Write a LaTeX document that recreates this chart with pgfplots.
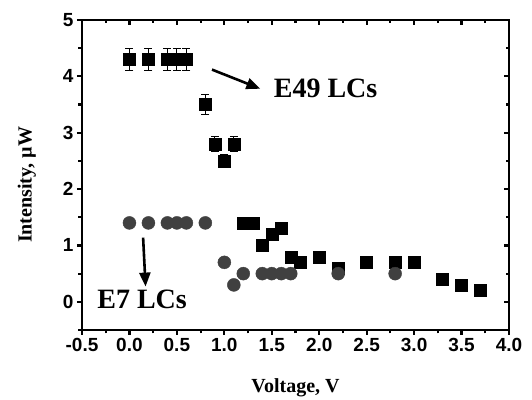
\documentclass[border=0pt]{standalone}
\usepackage{fontspec}
\setmainfont{Liberation Serif}
\setsansfont{Liberation Sans}
\usepackage{pgfplots}
\pgfplotsset{compat=1.18}
\usetikzlibrary{arrows.meta}
\definecolor{circgray}{HTML}{404040}
\newcommand{\tl}[1]{\textsf{\textbf{#1}}}
\begin{document}
\begin{tikzpicture}
\pgfplotsset{
  common/.style={
    scale only axis, width=427pt, height=310pt,
    xmin=-0.5, xmax=4.0, ymin=-0.5, ymax=5,
    xtick={-0.5,0,0.5,1,1.5,2,2.5,3,3.5,4},
    ytick={0,1,2,3,4,5},
    minor xtick={-0.25,0.25,0.75,1.25,1.75,2.25,2.75,3.25,3.75},
    minor ytick={-0.5,0.5,1.5,2.5,3.5,4.5},
    axis line style={line width=2.8pt},
    major tick style={line width=2.2pt, black},
    minor tick style={line width=2.2pt, black},
    major tick length=5pt, minor tick length=3.5pt,
  }
}
\begin{axis}[common, name=ax,
  tick align=outside, xtick pos=left, ytick pos=left,
  /pgf/number format/assume math mode=true,
  xticklabels={\tl{-0.5},\tl{0.0},\tl{0.5},\tl{1.0},\tl{1.5},\tl{2.0},\tl{2.5},\tl{3.0},\tl{3.5},\tl{4.0}},
  yticklabels={\tl{0},\tl{1},\tl{2},\tl{3},\tl{4},\tl{5}},
  ticklabel style={font=\fontsize{19}{21}\selectfont},
  xticklabel style={yshift=0pt},
  yticklabel style={xshift=0pt},
  xlabel={Voltage, V},
  ylabel={Intensity, \textmu W},
  label style={font=\fontsize{20}{22}\selectfont\bfseries},
  xlabel style={at={(axis description cs:0.5,-0.203)}, anchor=base},
  ylabel style={at={(axis description cs:-0.129,0.468)}, anchor=center},
  clip=false,
]
% E49 LCs (squares, with error bars)
\addplot[only marks, mark=square*, mark size=6pt, black,
  error bars/.cd, y dir=both, y explicit,
  error bar style={line width=1pt, black},
  error mark options={rotate=90, mark size=4pt, line width=1pt, black}]
  coordinates {
  (0.0,4.3) +- (0,0.2)
  (0.2,4.3) +- (0,0.2)
  (0.4,4.3) +- (0,0.2)
  (0.5,4.3) +- (0,0.2)
  (0.6,4.3) +- (0,0.2)
  (0.8,3.5) +- (0,0.17)
  (0.9,2.8) +- (0,0.14)
  (1.0,2.5) +- (0,0.12)
  (1.1,2.8) +- (0,0.14)
  };
\addplot[only marks, mark=square*, mark size=6pt, black] coordinates {
  (1.2,1.4) (1.3,1.4) (1.4,1.0) (1.5,1.2) (1.6,1.3) (1.7,0.8) (1.8,0.7)
  (2.0,0.8) (2.2,0.6) (2.5,0.7) (2.8,0.7) (3.0,0.7) (3.3,0.4) (3.5,0.3) (3.7,0.2)
  };
% E7 LCs (circles)
\addplot[only marks, mark=*, mark size=6.5pt, circgray, mark options={draw=circgray, fill=circgray}] coordinates {
  (0.0,1.4) (0.2,1.4) (0.4,1.4) (0.5,1.4) (0.6,1.4) (0.8,1.4)
  (1.0,0.7) (1.1,0.3) (1.2,0.5) (1.4,0.5) (1.5,0.5) (1.6,0.5) (1.7,0.5)
  (2.2,0.5) (2.8,0.5)
  };
% annotations
\draw[line width=2.6pt, -{Triangle[length=14pt,width=11pt]}] (axis cs:0.87,4.12) -- (axis cs:1.38,3.78);
\draw[line width=2.6pt, -{Triangle[length=14pt,width=11pt]}] (axis cs:0.144,1.14) -- (axis cs:0.17,0.27);
\node[anchor=base west, inner sep=0pt, font=\fontsize{28}{30}\selectfont\bfseries] at (axis cs:1.52,3.62) {E49 LCs};
\node[anchor=base west, inner sep=0pt, font=\fontsize{28}{30}\selectfont\bfseries] at (axis cs:-0.34,-0.125) {E7 LCs};
\end{axis}
\begin{axis}[common,
  tick align=inside, xtick pos=right, ytick pos=right,
  xticklabels={}, yticklabels={},
]
\end{axis}
\pgfresetboundingbox
\path ([shift={(-82pt,-70pt)}]ax.south west) rectangle ([shift={(23pt,20pt)}]ax.north east);
\end{tikzpicture}
\end{document}
